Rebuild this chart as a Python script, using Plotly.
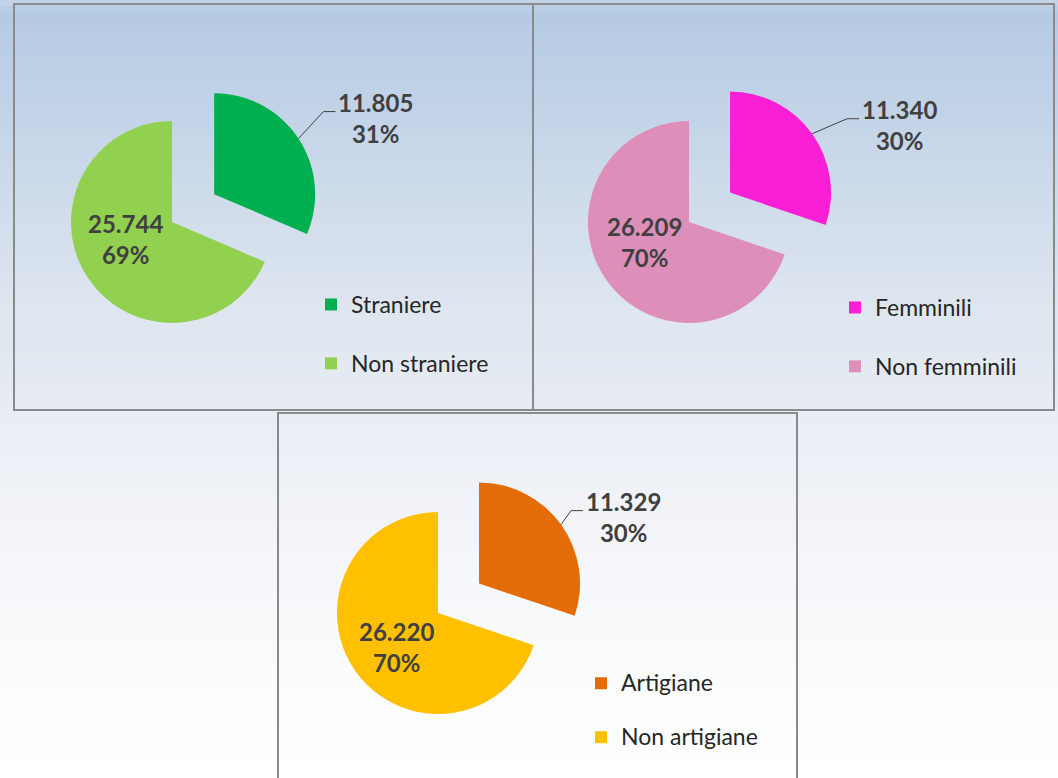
import math
import plotly.graph_objects as go

W, H = 1058, 778

# ---- data ----
labels_stranieri = ["Straniere", "Non straniere"]
values_stranieri = [11805, 25744]
labels_femminili = ["Femminili", "Non femminili"]
values_femminili = [11340, 26209]
labels_artigiane = ["Artigiane", "Non artigiane"]
values_artigiane = [11329, 26220]

colors_stranieri = ["#00b050", "#92d050"]
colors_femminili = ["#fa1fd4", "#dd8fba"]
colors_artigiane = ["#e36c09", "#ffc000"]

# ---- layout / style ----
R = 101
PULL = 0.5
FONT = "Lato, 'Open Sans', sans-serif"
TXT = "#404040"
LEG_TEXT_SIZE = 23   # visible legend text size

panels = [
    dict(labels=labels_stranieri, values=values_stranieri, colors=colors_stranieri,
         center=(172, 222), elbow=(25, -27), inside=(-47, 17),
         box=(14, 4, 533, 410), legend_xy=(311, 284), leg_size=21.5),
    dict(labels=labels_femminili, values=values_femminili, colors=colors_femminili,
         center=(689, 222), elbow=(35, -15), inside=(-45, 20),
         box=(533, 4, 1054, 410), legend_xy=(835, 287), leg_size=21.5),
    dict(labels=labels_artigiane, values=values_artigiane, colors=colors_artigiane,
         center=(438, 613), elbow=(10, -14), inside=(-42, 34),
         box=(278, 413, 797, 790), legend_xy=(581, 664), leg_size=19.6),
]


def px(x):
    return x / W


def py(y):
    return 1 - y / H


def fmt_it(v):
    return f"{v:,}".replace(",", ".")


def legend_label(lab, last):
    txt = f"<span style='font-size:{LEG_TEXT_SIZE}px'>{lab}</span>"
    return txt if last else txt + "<br> "


fig = go.Figure()
shapes = []
annotations = []

# background vertical gradient
stops = [(0, (197, 214, 234)), (12, (181, 202, 227)), (150, (200, 215, 233)),
         (300, (221, 229, 239)), (420, (233, 237, 244)), (520, (242, 244, 248)),
         (650, (250, 251, 252)), (778, (255, 255, 255))]


def grad(y):
    for (y0, c0), (y1, c1) in zip(stops[:-1], stops[1:]):
        if y0 <= y <= y1:
            t = (y - y0) / (y1 - y0)
            return "rgb(%d,%d,%d)" % tuple(round(a + (b - a) * t) for a, b in zip(c0, c1))
    return "rgb(255,255,255)"


N = 130
step = H / N
for i in range(N):
    y0 = i * step
    y1 = (i + 1) * step
    shapes.append(dict(type="rect", xref="paper", yref="paper", layer="below",
                       x0=0, x1=1, y0=py(y1 + 0.6), y1=py(y0),
                       fillcolor=grad((y0 + y1) / 2), line=dict(width=0)))

for k, p in enumerate(panels):
    cx, cy = p["center"]
    half = R * (1 + PULL)
    legend_name = "legend" if k == 0 else f"legend{k + 1}"
    n = len(p["labels"])
    fig.add_trace(go.Pie(
        labels=[legend_label(lab, i == n - 1) for i, lab in enumerate(p["labels"])],
        values=p["values"],
        marker=dict(colors=p["colors"], line=dict(width=0)),
        pull=[PULL, 0],
        sort=False,
        direction="clockwise",
        rotation=0,
        textinfo="none",
        hoverinfo="none",
        domain=dict(x=[px(cx - half), px(cx + half)], y=[py(cy + half), py(cy - half)]),
        legend=legend_name,
    ))

    total = sum(p["values"])
    v0, v1 = p["values"]
    # small slice: leader line + outside label
    theta = math.pi * v0 / total
    dx, dy = math.sin(theta), -math.cos(theta)
    pcx, pcy = cx + PULL * R * dx, cy + PULL * R * dy
    ex, ey = pcx + R * dx, pcy + R * dy
    elx, ely = ex + p["elbow"][0], ey + p["elbow"][1]
    enx, eny = elx + 12, ely
    shapes.append(dict(type="path", xref="paper", yref="paper", layer="above",
                       path=f"M{px(ex)},{py(ey)} L{px(elx)},{py(ely)} L{px(enx)},{py(eny)}",
                       line=dict(color="#404040", width=1)))
    annotations.append(dict(xref="paper", yref="paper", x=px(enx + 1), y=py(eny + 6),
                            xanchor="left", yanchor="middle", showarrow=False, align="center",
                            text=f"<b>{fmt_it(v0)}<br>{round(v0 / total * 100)}%</b>",
                            font=dict(family=FONT, size=24, color=TXT)))
    # big slice: inside label
    ix, iy = cx + p["inside"][0], cy + p["inside"][1]
    annotations.append(dict(xref="paper", yref="paper", x=px(ix), y=py(iy),
                            xanchor="center", yanchor="middle", showarrow=False, align="center",
                            text=f"<b>{fmt_it(v1)}<br>{round(v1 / total * 100)}%</b>",
                            font=dict(family=FONT, size=24, color=TXT)))
    # panel border
    bx0, by0, bx1, by1 = p["box"]
    shapes.append(dict(type="rect", xref="paper", yref="paper", layer="above",
                       x0=px(bx0), x1=px(bx1), y0=py(by1), y1=py(by0),
                       line=dict(color="#8a8a8a", width=2), fillcolor="rgba(0,0,0,0)"))

layout_legends = {}
for k, p in enumerate(panels):
    name = "legend" if k == 0 else f"legend{k + 1}"
    lx, ly = p["legend_xy"]
    layout_legends[name] = dict(
        bgcolor="rgba(0,0,0,0)", borderwidth=0, valign="top",
        font=dict(family=FONT, size=p["leg_size"], color="#262626"),
        xanchor="left", yanchor="top", itemwidth=30,
        itemclick=False, itemdoubleclick=False,
        x=px(lx), y=py(ly))

fig.update_layout(
    width=W, height=H,
    autosize=False,
    margin=dict(l=0, r=0, t=0, b=0, pad=0, autoexpand=False),
    paper_bgcolor="white",
    plot_bgcolor="white",
    showlegend=True,
    hovermode=False,
    shapes=shapes,
    annotations=annotations,
    font=dict(family=FONT, color=TXT),
    **layout_legends,
)

post = (
    "document.documentElement.style.margin='0';"
    "document.body.style.margin='0';document.body.style.padding='0';"
    "document.body.style.overflow='hidden';"
)

fig.write_html("out.html",
               config={"responsive": False, "displayModeBar": False},
               post_script=post)
